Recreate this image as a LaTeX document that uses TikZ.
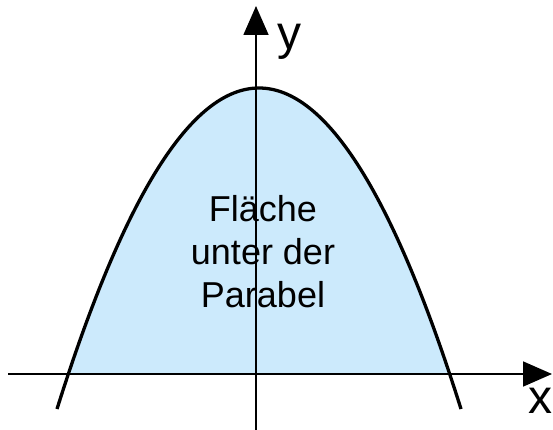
\documentclass[tikz,border=0pt]{standalone}
\usepackage{fontspec}
\setmainfont{Liberation Sans}
\usepackage{tikz}
\usetikzlibrary{arrows.meta}

\definecolor{areablue}{RGB}{204,234,252}

\begin{document}
\begin{tikzpicture}[
  x=1pt, y=-1pt,
  axis/.style={line width=1.7pt, -{Triangle[length=29pt, width=25pt]}},
  curve/.style={line width=3.3pt},
  area/.style={fill=areablue},
  lbl/.style={font=\fontsize{48}{56}\selectfont, inner sep=0pt},
  txt/.style={font=\fontsize{36}{43}\selectfont, align=center, inner sep=0pt},
]
\useasboundingbox (0,0) rectangle (553,430);

% Parabola end points
\coordinate (pl) at (57,409);
\coordinate (pr) at (461,409);

% Area under the parabola
\begin{scope}
  \clip (0,0) rectangle (553,374);
  \fill[area] (pl) .. controls (191.7,-19) and (326.3,-19) .. (pr) -- cycle;
\end{scope}

\node[txt] (flaeche) at (263,252) {Fläche\\unter der\\Parabel};

% Axes
\coordinate (xs) at (8,374);
\coordinate (xe) at (552,374);
\coordinate (ys) at (256,430);
\coordinate (ye) at (256,6);
\draw[axis] (xs) -- (xe);
\draw[axis] (ys) -- (ye);

\node[lbl, anchor=base] (xlbl) at (540,413) {x};
\node[lbl, anchor=base] (ylbl) at (289,50) {y};

% Parabola
\draw[curve] (pl) .. controls (191.7,-19) and (326.3,-19) .. (pr);
\end{tikzpicture}
\end{document}
